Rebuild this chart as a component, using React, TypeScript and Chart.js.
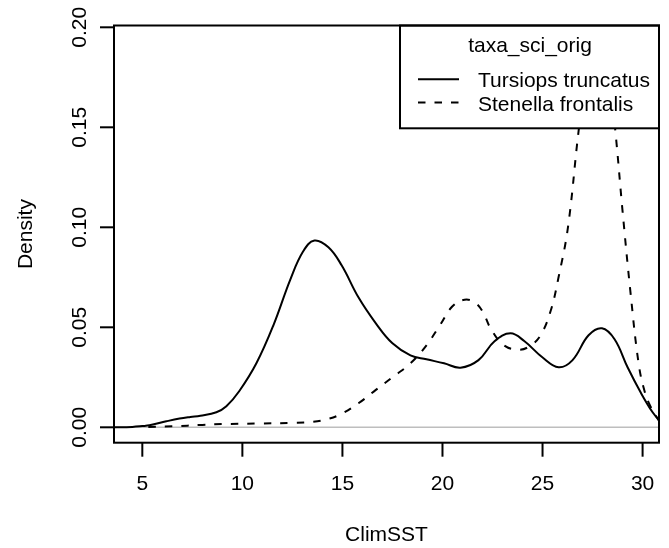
import React, { useEffect, useRef } from "react";
import { Chart, registerables } from "chart.js";

Chart.register(...registerables);

// ---- data ----
const tursiopsX = [3.5, 4.5, 5.0, 5.36, 6.2, 6.86, 7.4, 7.9, 8.7, 9.2, 9.84, 10.7, 11.55, 12.4, 13.04, 13.6, 14.3, 14.96, 15.8, 16.67, 17.5, 18.4, 19.2, 20.08, 20.9, 21.8, 22.6, 23.4, 24.1, 24.99, 25.8, 26.5, 27.3, 27.97, 28.6, 29.25, 29.9, 30.5, 30.83, 31.2];
const tursiopsY = [0.0000, 0.0002, 0.0006, 0.0010, 0.0030, 0.0044, 0.0052, 0.0058, 0.0075, 0.0105, 0.0180, 0.0320, 0.0510, 0.0740, 0.0880, 0.0934, 0.0900, 0.0810, 0.0650, 0.0520, 0.0420, 0.0360, 0.0340, 0.0320, 0.0298, 0.0336, 0.0430, 0.0470, 0.0430, 0.0350, 0.0300, 0.0336, 0.0460, 0.0495, 0.0440, 0.0300, 0.0175, 0.0075, 0.0037, 0.0010];

const stenellaX = [5.3, 6.5, 8.0, 9.0, 10.7, 12.5, 13.5, 14.3, 14.96, 15.8, 16.67, 17.5, 18.4, 19.2, 19.87, 20.5, 21.1, 21.6, 22.0, 22.43, 23.07, 23.8, 24.35, 24.9, 25.4, 25.8, 26.27, 26.8, 27.2, 27.75, 28.3, 28.64, 29.0, 29.4, 29.8, 30.1, 30.4, 30.83];
const stenellaY = [0.0002, 0.0005, 0.0012, 0.0016, 0.0019, 0.0022, 0.0027, 0.0042, 0.0068, 0.0120, 0.0187, 0.0250, 0.0320, 0.0410, 0.0510, 0.0605, 0.0638, 0.0625, 0.0580, 0.0490, 0.0410, 0.0388, 0.0405, 0.0460, 0.0580, 0.0750, 0.1000, 0.1480, 0.1780, 0.1930, 0.1780, 0.1480, 0.1080, 0.0670, 0.0320, 0.0180, 0.0103, 0.0030];

const seriesNames = ["Tursiops truncatus", "Stenella frontalis"];
const legendTitle = "taxa_sci_orig";
const xTitle = "ClimSST";
const yTitle = "Density";
const xTicks = [5, 10, 15, 20, 25, 30];
const yTicks = [0, 0.05, 0.1, 0.15, 0.2];
const yTickLabels = ["0.00", "0.05", "0.10", "0.15", "0.20"];

const FONT = '21px "Liberation Sans", Arial, Helvetica, sans-serif';
const DASH = [7.5, 9];

const toPoints = (xs: number[], ys: number[]) => xs.map((x, i) => ({ x, y: ys[i] }));

const rPlotPlugin = {
  id: "rplot",
  beforeDatasetsDraw(chart: any) {
    const { ctx, chartArea, scales } = chart;
    const y0 = scales.y.getPixelForValue(0);
    ctx.save();
    ctx.strokeStyle = "#BEBEBE";
    ctx.lineWidth = 1.5;
    ctx.beginPath();
    ctx.moveTo(chartArea.left, y0);
    ctx.lineTo(chartArea.right, y0);
    ctx.stroke();
    ctx.restore();
  },
  afterDraw(chart: any) {
    const { ctx, chartArea, scales } = chart;
    const { left, right, top, bottom } = chartArea;
    const xs = scales.x;
    const ys = scales.y;
    ctx.save();
    ctx.strokeStyle = "#000";
    ctx.fillStyle = "#000";
    ctx.lineWidth = 2;
    ctx.lineCap = "butt";
    ctx.font = FONT;

    // x ticks and labels
    xTicks.forEach((v) => {
      const px = xs.getPixelForValue(v);
      ctx.beginPath();
      ctx.moveTo(px, bottom);
      ctx.lineTo(px, bottom + 14);
      ctx.stroke();
      ctx.textAlign = "center";
      ctx.textBaseline = "alphabetic";
      ctx.fillText(String(v), px, bottom + 47);
    });
    // y ticks and labels
    yTicks.forEach((v, i) => {
      const py = ys.getPixelForValue(v);
      ctx.beginPath();
      ctx.moveTo(left - 14, py);
      ctx.lineTo(left, py);
      ctx.stroke();
      ctx.save();
      ctx.translate(left - 28.5, py);
      ctx.rotate(-Math.PI / 2);
      ctx.textAlign = "center";
      ctx.textBaseline = "alphabetic";
      ctx.fillText(yTickLabels[i], 0, 0);
      ctx.restore();
    });
    // axis titles
    ctx.textAlign = "center";
    ctx.textBaseline = "alphabetic";
    ctx.fillText(xTitle, (left + right) / 2, 540.5);
    ctx.save();
    ctx.translate(31.7, (top + bottom) / 2);
    ctx.rotate(-Math.PI / 2);
    ctx.fillText(yTitle, 0, 0);
    ctx.restore();

    // legend
    const lx0 = 400;
    const ly0 = top;
    const lx1 = right;
    const ly1 = 128.3;
    ctx.fillStyle = "#fff";
    ctx.fillRect(lx0, ly0, lx1 - lx0, ly1 - ly0);
    ctx.strokeStyle = "#000";
    ctx.lineWidth = 2;
    ctx.strokeRect(lx0, ly0, lx1 - lx0, ly1 - ly0);
    ctx.fillStyle = "#000";
    ctx.textAlign = "center";
    ctx.fillText(legendTitle, 530, 51.7);
    ctx.textAlign = "left";
    ctx.fillText(seriesNames[0], 478, 86.7);
    ctx.fillText(seriesNames[1], 478, 110.7);
    ctx.beginPath();
    ctx.moveTo(418, 79.3);
    ctx.lineTo(459, 79.3);
    ctx.stroke();
    ctx.setLineDash(DASH);
    ctx.beginPath();
    ctx.moveTo(418, 102.5);
    ctx.lineTo(459, 102.5);
    ctx.stroke();
    ctx.setLineDash([]);

    // box
    ctx.strokeRect(left, top, right - left, bottom - top);
    ctx.restore();
  },
};

export default function App() {
  const ref = useRef<HTMLCanvasElement | null>(null);
  useEffect(() => {
    if (!ref.current) return;
    const chart = new Chart(ref.current, {
      type: "line",
      data: {
        datasets: [
          {
            label: seriesNames[0],
            data: toPoints(tursiopsX, tursiopsY),
            borderColor: "#000",
            borderWidth: 2,
            pointRadius: 0,
            fill: false,
            tension: 0.4,
          },
          {
            label: seriesNames[1],
            data: toPoints(stenellaX, stenellaY),
            borderColor: "#000",
            borderWidth: 2,
            borderDash: DASH,
            pointRadius: 0,
            fill: false,
            tension: 0.4,
          },
        ],
      },
      options: {
        responsive: false,
        animation: false,
        devicePixelRatio: 1,
        layout: { padding: { left: 114, right: 10, top: 25.5, bottom: 105.3 } },
        plugins: { legend: { display: false }, tooltip: { enabled: false } },
        scales: {
          x: { type: "linear", min: 3.585, max: 30.82, display: false },
          y: { type: "linear", min: -0.0077, max: 0.2009, display: false },
        },
      },
      plugins: [rPlotPlugin],
    });
    return () => chart.destroy();
  }, []);
  return (
    <div style={{ position: "absolute", left: 0, top: 0, width: 669, height: 548, background: "#fff" }}>
      <canvas ref={ref} width={669} height={548} style={{ display: "block", width: 669, height: 548 }} />
    </div>
  );
}
